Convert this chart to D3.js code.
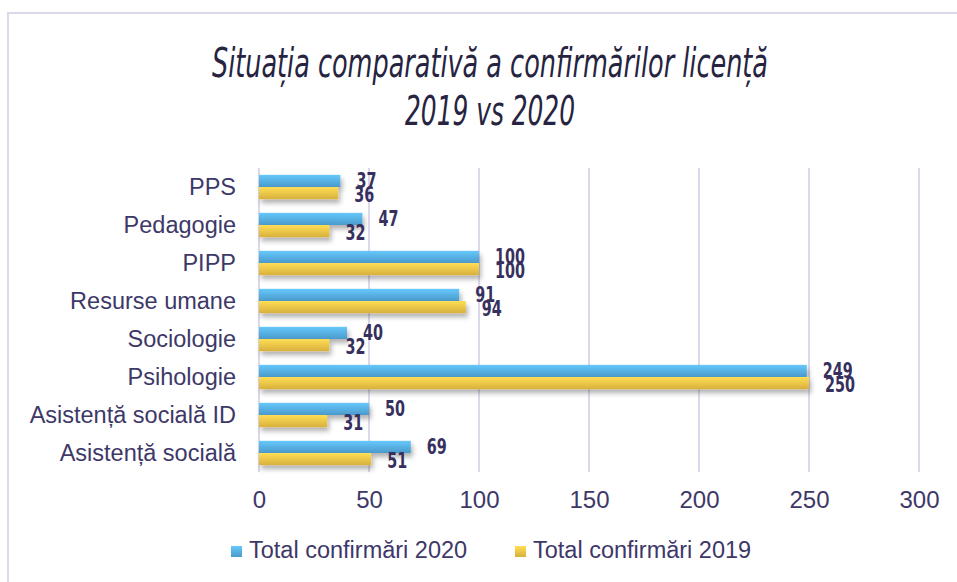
<!DOCTYPE html>
<html>
<head>
<meta charset="utf-8">
<script src="https://cdn.jsdelivr.net/npm/d3@7"></script>
<style>
  body { margin: 0; background: #fff; }
  svg { display: block; }
</style>
</head>
<body>
<div id="chart"></div>
<script>
// chart data
var categories = ["PPS", "Pedagogie", "PIPP", "Resurse umane", "Sociologie", "Psihologie", "Asistență socială ID", "Asistență socială"];
var values2020 = [37, 47, 100, 91, 40, 249, 50, 69];
var values2019 = [36, 32, 100, 94, 32, 250, 31, 51];
var seriesNames = ["Total confirmări 2020", "Total confirmări 2019"];
var xTicks = [0, 50, 100, 150, 200, 250, 300];
var titleLines = ["Situația comparativă a confirmărilor licență", "2019 vs 2020"];

var width = 957, height = 582;
var margin = {top: 168, right: 37, bottom: 110, left: 259};

var svg = d3.select("#chart").append("svg")
    .attr("width", width)
    .attr("height", height);

var defs = svg.append("defs");

// bar gradients
var gradBlue = defs.append("linearGradient").attr("id", "gBlue")
    .attr("x1", 0).attr("y1", 0).attr("x2", 0).attr("y2", 1);
gradBlue.append("stop").attr("offset", "0%").attr("stop-color", "#66c8fb");
gradBlue.append("stop").attr("offset", "100%").attr("stop-color", "#4a9acc");

var gradYellow = defs.append("linearGradient").attr("id", "gYellow")
    .attr("x1", 0).attr("y1", 0).attr("x2", 0).attr("y2", 1);
gradYellow.append("stop").attr("offset", "0%").attr("stop-color", "#ffde55");
gradYellow.append("stop").attr("offset", "100%").attr("stop-color", "#d8b03c");

var shadow = defs.append("filter").attr("id", "shadow")
    .attr("x", "-10%").attr("y", "-50%").attr("width", "130%").attr("height", "250%");
shadow.append("feDropShadow")
    .attr("dx", 2).attr("dy", 4)
    .attr("stdDeviation", 2.5)
    .attr("flood-color", "#000")
    .attr("flood-opacity", 0.3);

// outer frame (goes past the right and bottom edges)
svg.append("rect")
    .attr("x", 8).attr("y", 13)
    .attr("width", 1000).attr("height", 700)
    .attr("fill", "none")
    .attr("stroke", "#dcd8ec")
    .attr("stroke-width", 2);

// title
svg.append("g").selectAll("text")
    .data(titleLines)
  .enter().append("text")
    .attr("x", 490)
    .attr("y", function(d, i) { return 77 + i * 48; })
    .attr("text-anchor", "middle")
    .attr("textLength", function(d, i) { return i === 0 ? 556 : 170; })
    .attr("lengthAdjust", "spacingAndGlyphs")
    .style("font-family", "'DejaVu Sans Condensed', sans-serif")
    .style("font-style", "italic")
    .style("font-size", "40px")
    .style("fill", "#262440")
    .text(function(d) { return d; });

// scales
var x = d3.scaleLinear()
    .domain([0, 300])
    .range([margin.left, width - margin.right - 1]);

var y = d3.scaleBand()
    .domain(categories)
    .range([margin.top, height - margin.bottom])
    .paddingInner(0.36)
    .paddingOuter(0.18);

var ySub = d3.scaleBand()
    .domain([0, 1])
    .range([0, y.bandwidth()]);

// gridlines
svg.append("g").selectAll("line")
    .data(xTicks)
  .enter().append("line")
    .attr("x1", function(d) { return x(d); })
    .attr("x2", function(d) { return x(d); })
    .attr("y1", margin.top)
    .attr("y2", height - margin.bottom)
    .attr("stroke", "#dcd8ec")
    .attr("stroke-width", 2);

// x axis labels
var xAxis = svg.append("g")
    .attr("transform", "translate(0," + (height - margin.bottom) + ")")
    .call(d3.axisBottom(x).tickValues(xTicks).tickSize(0).tickPadding(19));
xAxis.select(".domain").remove();
xAxis.selectAll("text")
    .style("font-family", "'Liberation Sans', Arial, sans-serif")
    .style("font-size", "24px")
    .style("fill", "#3d3868");

// category labels
var yAxis = svg.append("g")
    .attr("transform", "translate(" + margin.left + ",0)")
    .call(d3.axisLeft(y).tickSize(0).tickPadding(23));
yAxis.select(".domain").remove();
yAxis.selectAll("text")
    .style("font-family", "'Liberation Sans', Arial, sans-serif")
    .style("font-size", "23.5px")
    .style("fill", "#3d3868");

// bars
var series = [
  {name: seriesNames[0], values: values2020, fill: "url(#gBlue)"},
  {name: seriesNames[1], values: values2019, fill: "url(#gYellow)"}
];

series.forEach(function(s, si) {
  var g = svg.append("g").attr("filter", "url(#shadow)");
  g.selectAll("rect")
      .data(s.values)
    .enter().append("rect")
      .attr("x", x(0))
      .attr("y", function(d, i) { return y(categories[i]) + ySub(si); })
      .attr("width", function(d) { return x(d) - x(0); })
      .attr("height", ySub.bandwidth())
      .attr("fill", s.fill);
});

// data labels
series.forEach(function(s, si) {
  svg.append("g").selectAll("text")
      .data(s.values)
    .enter().append("text")
      .attr("x", function(d) { return x(d) + 16; })
      .attr("y", function(d, i) { return y(categories[i]) + ySub(si) + ySub.bandwidth() / 2 + (si === 0 ? -1 : 1); })
      .attr("dy", "0.36em")
      .attr("textLength", function(d) { return String(d).length * 10; })
      .attr("lengthAdjust", "spacingAndGlyphs")
      .style("font-family", "'DejaVu Sans Condensed', sans-serif")
      .style("font-weight", "bold")
      .style("font-size", "22px")
      .style("fill", "#37305e")
      .text(function(d) { return d; });
});

// legend
var legendX = [231, 515];
var legend = svg.append("g").selectAll("g")
    .data(series)
  .enter().append("g")
    .attr("transform", function(d, i) { return "translate(" + legendX[i] + ",546)"; });
legend.append("rect")
    .attr("width", 11)
    .attr("height", 11)
    .attr("fill", function(d) { return d.fill; });
legend.append("text")
    .attr("x", 18)
    .attr("y", 12)
    .style("font-family", "'Liberation Sans', Arial, sans-serif")
    .style("font-size", "23.5px")
    .style("fill", "#3d3868")
    .text(function(d) { return d.name; });
</script>
</body>
</html>
